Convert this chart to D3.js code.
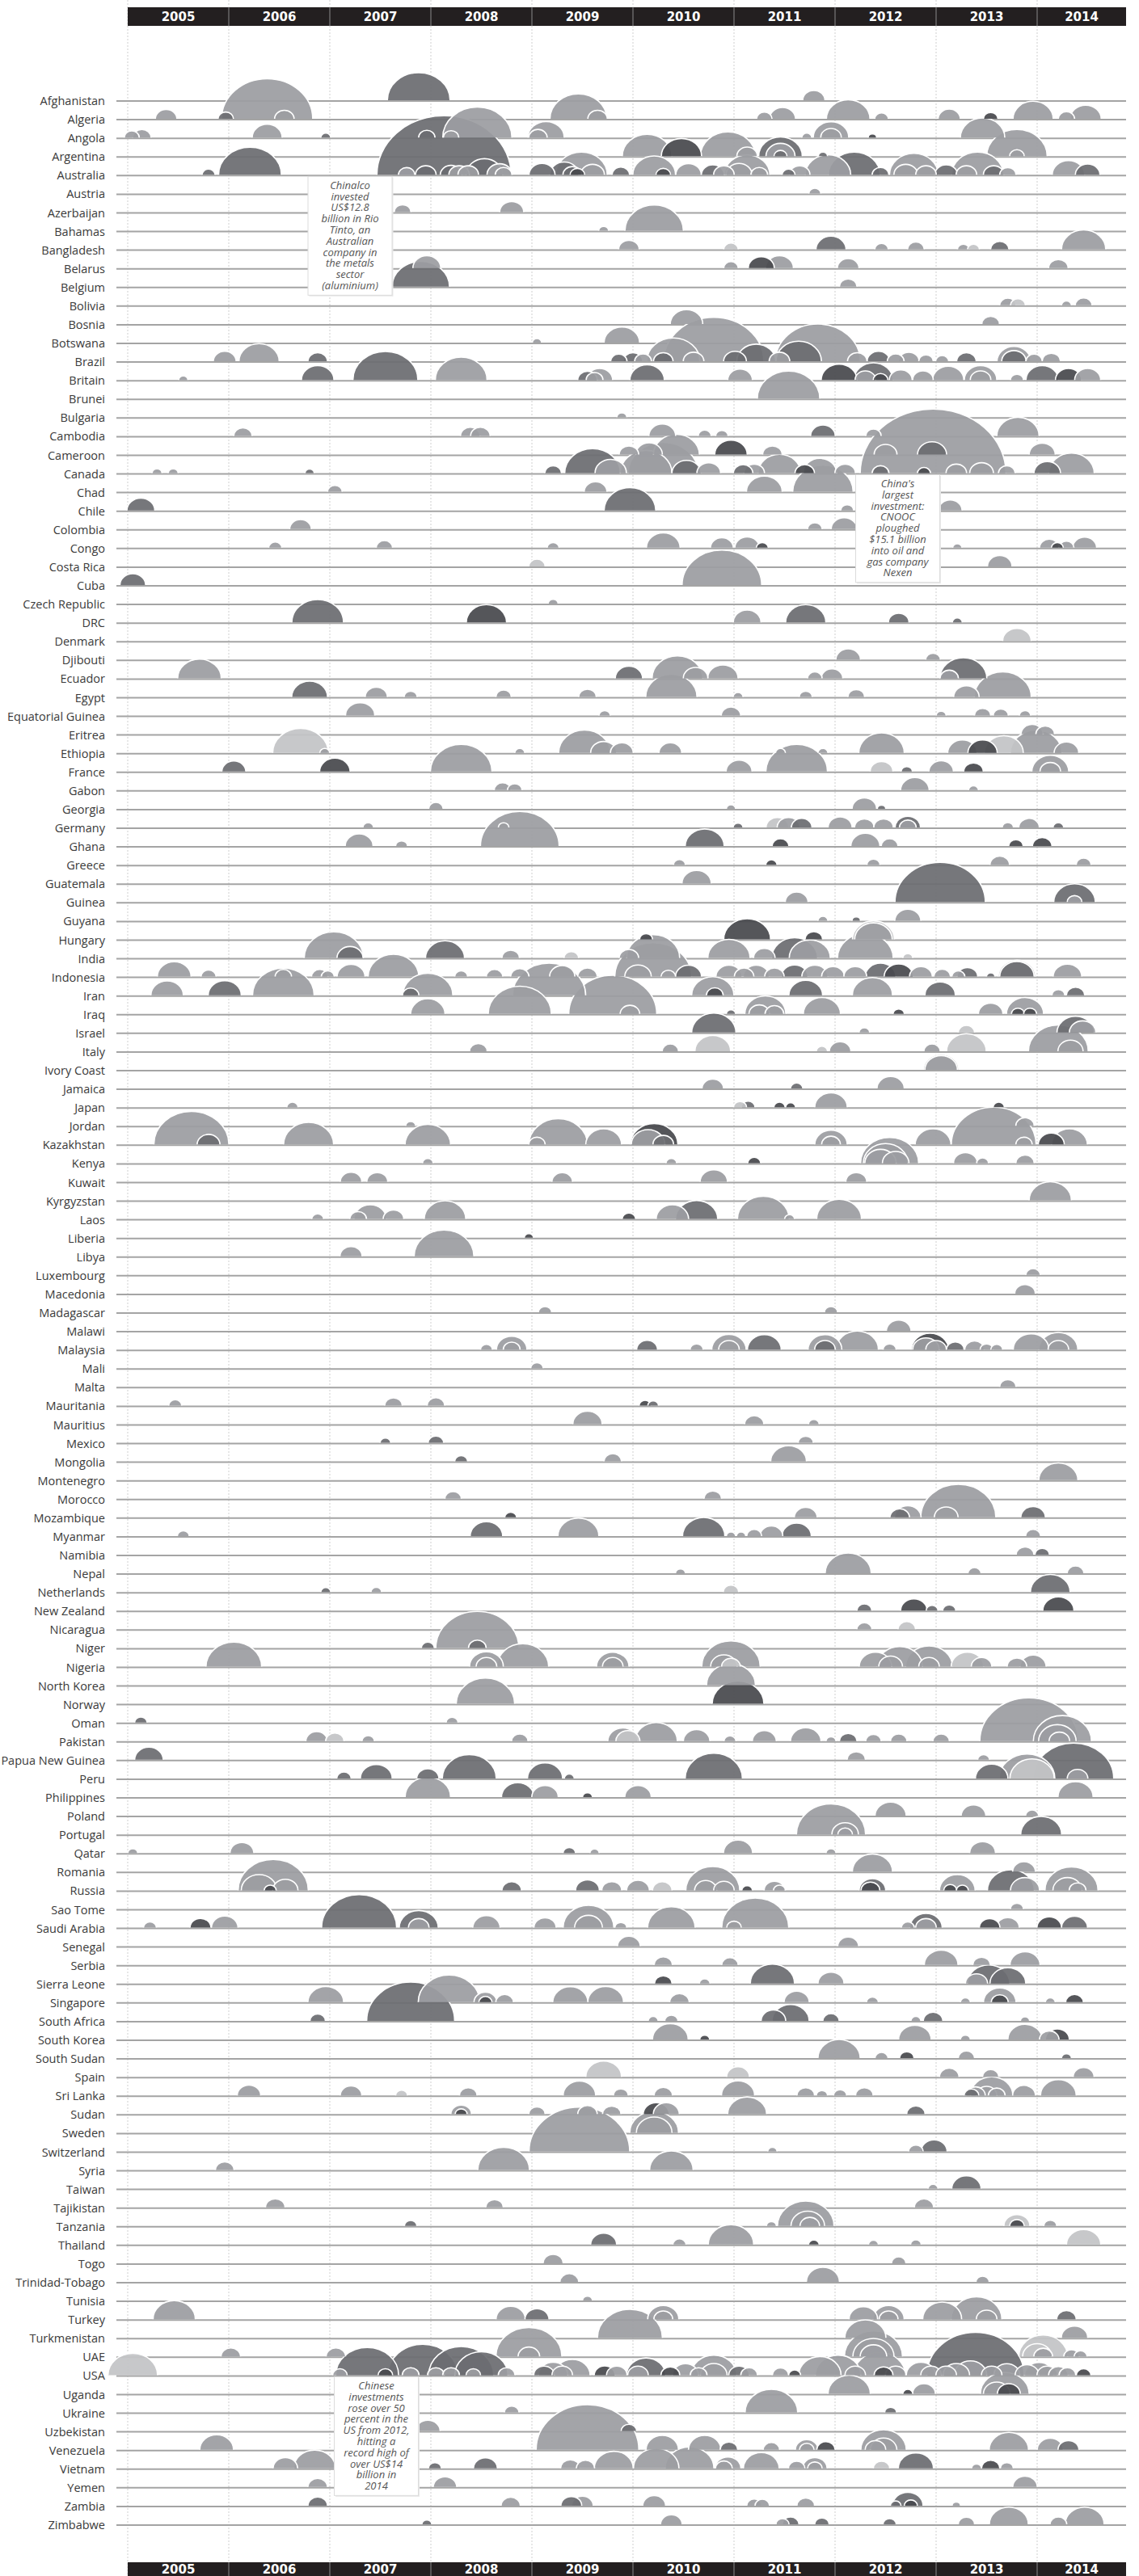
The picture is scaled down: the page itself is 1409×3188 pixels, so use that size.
<!DOCTYPE html>
<html lang="en">
<head>
<meta charset="utf-8">
<title>Chinese investment abroad, 2005-2014</title>
<script src="https://d3js.org/d3.v7.min.js"></script>
<style>
  body { margin: 0; background: #fff; }
  svg { display: block; }
  .country { font-family: "Open Sans", sans-serif; font-size: 14.5px; fill: #3a3a3a; }
  .year { font-family: "DejaVu Sans", sans-serif; font-weight: bold; font-size: 15px; fill: #fff; }
  .note { font-family: "Open Sans", sans-serif; font-style: italic; font-size: 13px; fill: #555; }
</style>
</head>
<body>
<script>
// tick labels
var years = [2005, 2006, 2007, 2008, 2009, 2010, 2011, 2012, 2013, 2014];
var endYear = 2014.88; // data stops before the end of 2014

// categories (one row each)
var countries = ["Afghanistan","Algeria","Angola","Argentina","Australia","Austria","Azerbaijan","Bahamas","Bangladesh","Belarus","Belgium","Bolivia","Bosnia","Botswana","Brazil","Britain","Brunei","Bulgaria","Cambodia","Cameroon","Canada","Chad","Chile","Colombia","Congo","Costa Rica","Cuba","Czech Republic","DRC","Denmark","Djibouti","Ecuador","Egypt","Equatorial Guinea","Eritrea","Ethiopia","France","Gabon","Georgia","Germany","Ghana","Greece","Guatemala","Guinea","Guyana","Hungary","India","Indonesia","Iran","Iraq","Israel","Italy","Ivory Coast","Jamaica","Japan","Jordan","Kazakhstan","Kenya","Kuwait","Kyrgyzstan","Laos","Liberia","Libya","Luxembourg","Macedonia","Madagascar","Malawi","Malaysia","Mali","Malta","Mauritania","Mauritius","Mexico","Mongolia","Montenegro","Morocco","Mozambique","Myanmar","Namibia","Nepal","Netherlands","New Zealand","Nicaragua","Niger","Nigeria","North Korea","Norway","Oman","Pakistan","Papua New Guinea","Peru","Philippines","Poland","Portugal","Qatar","Romania","Russia","Sao Tome","Saudi Arabia","Senegal","Serbia","Sierra Leone","Singapore","South Africa","South Korea","South Sudan","Spain","Sri Lanka","Sudan","Sweden","Switzerland","Syria","Taiwan","Tajikistan","Tanzania","Thailand","Togo","Trinidad-Tobago","Tunisia","Turkey","Turkmenistan","UAE","USA","Uganda","Ukraine","Uzbekistan","Venezuela","Vietnam","Yemen","Zambia","Zimbabwe"];

// sector shades: m = mid grey, d = dark, k = darkest, l = light
var shades = { m: "#9c9da1", d: "#6c6d71", k: "#48494d", l: "#c3c4c6" };

// deals: [date (decimal year), US$ billion, sector shade]
var deals = [
["Afghanistan",[2007.88,2.8,"d"],[2011.79,0.35,"m"]],
["Algeria",[2005.38,0.33,"m"],[2005.97,0.17,"d"],[2006.38,5.9,"m"],[2006.55,0.27,"m"],[2009.46,2.3,"m"],[2009.65,0.27,"m"],[2011.3,0.17,"m"],[2011.48,0.48,"m"],[2012.13,1.35,"m"],[2012.46,0.13,"m"],[2013.13,0.35,"m"],[2013.54,0.15,"k"],[2013.96,1.15,"m"],[2014.29,0.19,"m"],[2014.48,0.69,"m"]],
["Angola",[2005.04,0.16,"m"],[2005.14,0.24,"m"],[2006.38,0.64,"m"],[2006.96,0.07,"d"],[2007.96,0.19,"d"],[2008.2,0.17,"m"],[2008.46,3.4,"m"],[2009.14,0.94,"m"],[2009.06,0.24,"m"],[2011.72,0.07,"m"],[2011.96,0.9,"m"],[2011.96,0.3,"m"],[2012.37,0.05,"k"],[2013.46,1.4,"m"]],
["Argentina",[2010.14,1.75,"m"],[2010.48,1.15,"k"],[2010.94,2.15,"m"],[2011.13,0.3,"m"],[2011.46,1.35,"d"],[2011.46,0.6,"m"],[2011.46,0.12,"d"],[2011.88,0.06,"d"],[2013.8,2.6,"m"],[2013.8,0.15,"m"]],
["Australia",[2005.8,0.12,"d"],[2006.21,2.8,"d"],[2008.13,12.8,"d"],[2007.76,0.19,"m"],[2007.95,0.3,"d"],[2008.2,0.33,"d"],[2008.28,0.3,"m"],[2008.37,0.3,"m"],[2008.53,0.95,"d"],[2008.68,0.45,"m"],[2008.72,0.2,"m"],[2009.1,0.48,"d"],[2009.32,0.6,"d"],[2009.49,1.9,"m"],[2009.4,0.25,"d"],[2009.45,0.15,"k"],[2009.6,0.4,"m"],[2009.88,0.22,"d"],[2010.21,1.3,"m"],[2010.3,0.15,"k"],[2010.55,0.46,"m"],[2010.79,0.37,"d"],[2010.9,0.3,"m"],[2011.13,1.47,"m"],[2011.05,0.48,"m"],[2011.25,0.2,"m"],[2011.54,0.12,"d"],[2011.65,0.3,"m"],[2011.93,1.47,"m"],[2012.19,1.9,"d"],[2012.45,0.2,"d"],[2012.78,1.69,"m"],[2012.7,0.4,"m"],[2012.9,0.3,"m"],[2013.1,0.37,"d"],[2013.41,1.9,"m"],[2013.3,0.3,"m"],[2013.57,0.3,"d"],[2013.71,0.19,"m"],[2014.31,0.75,"m"],[2014.5,0.43,"d"]],
["Austria",[2011.8,0.1,"m"]],
["Azerbaijan",[2007.72,0.2,"m"],[2008.8,0.41,"m"]],
["Bahamas",[2009.71,0.07,"m"],[2010.21,2.43,"m"]],
["Bangladesh",[2009.96,0.3,"m"],[2010.97,0.15,"l"],[2011.96,0.64,"d"],[2012.46,0.13,"m"],[2012.8,0.2,"m"],[2013.27,0.1,"m"],[2013.37,0.1,"l"],[2013.63,0.24,"d"],[2014.46,1.39,"m"]],
["Belarus",[2007.96,0.55,"m"],[2010.97,0.15,"m"],[2011.27,0.48,"k"],[2011.45,0.55,"m"],[2012.13,0.33,"m"],[2014.21,0.27,"m"]],
["Belgium",[2007.9,2.34,"d"],[2012.13,0.22,"m"]],
["Bolivia",[2013.71,0.19,"m"],[2013.81,0.16,"l"],[2014.29,0.07,"m"],[2014.46,0.2,"m"]],
["Bosnia",[2010.53,0.75,"m"],[2013.54,0.22,"m"]],
["Botswana",[2009.05,0.06,"m"],[2009.89,0.9,"m"]],
["Brazil",[2005.96,0.37,"m"],[2006.3,1.15,"m"],[2006.88,0.27,"d"],[2009.86,0.19,"d"],[2010.0,0.27,"d"],[2010.1,0.2,"m"],[2010.4,2.0,"m"],[2010.3,0.27,"d"],[2010.8,7.1,"m"],[2010.6,0.3,"m"],[2011.01,0.37,"d"],[2011.22,1.08,"d"],[2011.64,1.47,"d"],[2011.83,5.1,"m"],[2011.45,0.3,"m"],[2012.22,0.27,"m"],[2012.43,0.37,"d"],[2012.6,0.2,"m"],[2012.73,0.3,"m"],[2012.9,0.15,"m"],[2013.06,0.12,"m"],[2013.3,0.27,"d"],[2013.77,0.81,"m"],[2013.77,0.42,"d"],[2013.97,0.19,"m"],[2014.14,0.24,"m"]],
["Britain",[2005.55,0.06,"m"],[2006.88,0.75,"d"],[2007.55,3.0,"d"],[2008.3,1.9,"m"],[2009.55,0.27,"d"],[2009.67,0.48,"m"],[2009.62,0.2,"m"],[2010.14,0.84,"d"],[2011.06,0.43,"m"],[2012.04,0.91,"k"],[2012.38,1.08,"d"],[2012.3,0.3,"m"],[2012.45,0.15,"k"],[2012.65,0.37,"m"],[2012.87,0.3,"m"],[2013.12,0.69,"m"],[2013.44,0.75,"m"],[2013.44,0.3,"m"],[2013.8,0.12,"m"],[2014.05,0.75,"d"],[2014.31,0.48,"k"],[2014.5,0.48,"m"]],
["Brunei",[2011.54,2.77,"m"]],
["Bulgaria",[2009.89,0.07,"m"]],
["Cambodia",[2006.14,0.24,"m"],[2008.39,0.27,"m"],[2008.49,0.27,"m"],[2010.29,0.51,"m"],[2010.71,0.12,"m"],[2010.88,0.11,"m"],[2011.88,0.43,"d"],[2012.38,0.17,"m"],[2013.81,1.27,"m"]],
["Cameroon",[2009.96,0.27,"m"],[2010.16,0.5,"m"],[2010.43,1.5,"m"],[2010.97,0.75,"k"],[2011.38,0.27,"m"],[2012.5,0.37,"m"],[2012.96,0.6,"d"],[2014.05,0.48,"m"]],
["Canada",[2005.29,0.07,"m"],[2005.45,0.07,"m"],[2006.8,0.06,"d"],[2009.21,0.2,"d"],[2009.6,2.2,"d"],[2009.78,0.7,"m"],[2010.13,1.9,"m"],[2010.3,3.5,"m"],[2010.53,0.6,"d"],[2010.75,0.4,"m"],[2011.09,0.27,"d"],[2011.2,0.3,"m"],[2011.45,1.3,"m"],[2011.7,0.27,"k"],[2011.85,0.8,"m"],[2012.1,0.3,"m"],[2012.45,0.2,"d"],[2012.97,15.1,"m"],[2012.88,0.12,"k"],[2013.2,0.3,"m"],[2013.45,0.4,"m"],[2013.7,0.2,"m"],[2014.1,0.5,"d"],[2014.34,1.47,"m"]],
["Chad",[2007.05,0.15,"m"],[2009.63,0.37,"m"],[2011.3,0.91,"m"],[2011.88,2.6,"m"]],
["Chile",[2005.13,0.55,"d"],[2009.97,1.9,"d"],[2012.12,0.12,"m"],[2013.14,0.4,"m"]],
["Colombia",[2006.71,0.33,"m"],[2011.8,0.15,"m"],[2012.09,0.48,"m"]],
["Congo",[2006.46,0.12,"m"],[2007.54,0.19,"m"],[2009.21,0.1,"m"],[2010.3,0.81,"m"],[2010.88,0.37,"m"],[2011.13,0.43,"m"],[2011.28,0.1,"k"],[2013.21,0.06,"m"],[2014.12,0.27,"m"],[2014.2,0.1,"k"],[2014.29,0.16,"m"],[2014.47,0.41,"m"]],
["Costa Rica",[2009.05,0.19,"l"],[2013.63,0.43,"m"]],
["Cuba",[2005.05,0.47,"d"],[2010.88,4.5,"m"]],
["Czech Republic",[2009.21,0.07,"m"]],
["DRC",[2006.88,1.9,"d"],[2008.55,1.15,"k"],[2011.13,0.55,"m"],[2011.71,1.15,"d"],[2012.63,0.3,"d"],[2013.21,0.07,"d"]],
["Denmark",[2013.8,0.58,"l"]],
["Djibouti",[2012.13,0.43,"m"],[2012.97,0.15,"m"]],
["Ecuador",[2005.71,1.35,"m"],[2009.96,0.53,"d"],[2010.44,1.83,"m"],[2010.62,0.43,"m"],[2010.89,0.66,"m"],[2011.8,0.15,"m"],[2011.97,0.33,"m"],[2013.27,1.56,"d"],[2013.13,0.24,"m"]],
["Egypt",[2006.8,0.91,"d"],[2007.46,0.35,"m"],[2007.8,0.12,"m"],[2008.72,0.17,"m"],[2009.55,0.22,"m"],[2010.38,1.87,"m"],[2011.04,0.07,"m"],[2011.71,0.12,"m"],[2012.21,0.2,"m"],[2013.3,0.46,"m"],[2013.66,2.3,"m"]],
["Equatorial Guinea",[2007.3,0.61,"m"],[2009.72,0.09,"m"],[2010.97,0.27,"m"],[2013.05,0.07,"m"],[2013.46,0.19,"m"],[2013.64,0.16,"m"],[2013.88,0.09,"m"]],
["Eritrea",[2013.95,0.35,"m"],[2014.08,0.25,"m"]],
["Ethiopia",[2006.71,2.2,"l"],[2006.95,0.07,"m"],[2008.88,0.07,"m"],[2009.52,1.9,"m"],[2009.71,0.48,"m"],[2009.89,0.37,"m"],[2010.37,0.37,"m"],[2011.46,0.07,"m"],[2011.88,0.07,"m"],[2012.46,1.47,"m"],[2013.26,0.61,"m"],[2013.46,0.61,"k"],[2013.67,1.08,"l"],[2013.99,1.9,"m"],[2014.29,0.43,"m"]],
["France",[2006.05,0.41,"d"],[2007.05,0.66,"k"],[2008.3,2.7,"m"],[2011.05,0.48,"m"],[2011.62,2.7,"m"],[2012.46,0.37,"l"],[2012.71,0.09,"d"],[2013.05,0.43,"m"],[2013.37,0.27,"k"],[2014.13,0.97,"m"],[2014.13,0.3,"m"]],
["Gabon",[2008.71,0.2,"m"],[2008.83,0.15,"m"],[2012.79,0.58,"m"],[2013.37,0.07,"m"]],
["Georgia",[2008.05,0.15,"m"],[2010.97,0.06,"m"],[2012.29,0.43,"m"],[2012.46,0.05,"d"]],
["Germany",[2007.38,0.08,"m"],[2008.72,0.08,"m"],[2011.04,0.07,"d"],[2011.43,0.37,"l"],[2011.54,0.37,"m"],[2011.67,0.3,"d"],[2012.05,0.41,"m"],[2012.29,0.27,"m"],[2012.48,0.27,"m"],[2012.72,0.46,"d"],[2012.72,0.2,"m"],[2013.71,0.09,"m"],[2013.92,0.3,"m"],[2014.21,0.08,"d"]],
["Ghana",[2007.29,0.55,"m"],[2007.71,0.1,"m"],[2008.88,4.4,"m"],[2010.71,1.08,"d"],[2011.46,0.2,"k"],[2012.3,0.6,"m"],[2012.54,0.2,"m"],[2013.79,0.15,"k"],[2014.05,0.27,"k"]],
["Greece",[2010.46,0.1,"m"],[2011.37,0.09,"k"],[2012.38,0.12,"m"],[2013.63,0.27,"m"],[2014.46,0.16,"m"]],
["Guatemala",[2010.63,0.61,"m"]],
["Guinea",[2011.62,0.37,"m"],[2013.04,5.8,"d"],[2014.37,1.23,"d"],[2014.37,0.15,"m"]],
["Guyana",[2011.88,0.07,"m"],[2012.21,0.05,"d"],[2012.72,0.48,"m"]],
["Hungary",[2010.13,0.12,"k"],[2011.13,1.56,"k"],[2011.79,0.22,"k"],[2012.38,1.25,"l"],[2012.38,1.0,"m"]],
["India",[2007.04,2.5,"m"],[2007.2,0.48,"d"],[2008.14,1.08,"d"],[2008.79,0.22,"m"],[2009.39,0.15,"l"],[2009.96,0.27,"m"],[2010.2,2.0,"m"],[2010.95,1.27,"m"],[2011.3,0.33,"m"],[2011.6,1.5,"d"],[2011.75,1.2,"m"],[2012.3,2.2,"m"],[2012.72,0.07,"l"]],
["Indonesia",[2005.46,0.81,"m"],[2005.8,0.16,"m"],[2006.54,0.19,"m"],[2006.9,0.19,"m"],[2006.98,0.12,"m"],[2007.21,0.55,"m"],[2007.63,1.83,"m"],[2008.3,0.12,"m"],[2008.63,0.19,"m"],[2008.88,0.24,"m"],[2009.3,0.45,"m"],[2009.55,0.27,"m"],[2010.2,4.2,"m"],[2010.05,0.5,"m"],[2010.35,0.15,"m"],[2010.55,0.48,"d"],[2010.95,0.48,"m"],[2011.1,0.27,"m"],[2011.22,0.48,"m"],[2011.4,0.27,"m"],[2011.6,0.5,"d"],[2011.8,0.48,"m"],[2011.98,0.37,"m"],[2012.2,0.37,"m"],[2012.45,0.66,"d"],[2012.63,0.6,"k"],[2012.85,0.37,"m"],[2013.06,0.2,"m"],[2013.22,0.12,"m"],[2013.31,0.3,"d"],[2013.54,0.05,"d"],[2013.8,1.0,"l"],[2013.8,0.84,"d"],[2014.3,0.58,"m"]],
["Iran",[2005.39,0.75,"m"],[2005.96,0.78,"d"],[2006.54,2.7,"m"],[2007.8,0.19,"d"],[2007.97,1.78,"m"],[2009.17,3.8,"m"],[2010.79,1.27,"m"],[2010.81,0.2,"k"],[2011.71,0.81,"d"],[2012.37,1.15,"m"],[2013.04,0.66,"d"],[2014.21,0.12,"m"],[2014.38,0.24,"d"]],
["Iraq",[2007.97,0.84,"m"],[2008.88,2.83,"m"],[2009.8,5.5,"m"],[2009.97,0.27,"m"],[2010.97,0.06,"d"],[2011.31,1.2,"m"],[2011.25,0.3,"m"],[2011.4,0.25,"m"],[2011.87,0.98,"m"],[2012.63,0.09,"k"],[2013.54,0.43,"m"],[2013.88,0.98,"m"],[2013.81,0.12,"k"],[2013.93,0.12,"k"]],
["Israel",[2010.8,1.39,"d"],[2012.29,0.08,"m"],[2013.3,0.19,"l"],[2014.45,0.5,"m"],[2014.38,0.98,"d"]],
["Italy",[2008.47,0.22,"m"],[2010.37,0.19,"m"],[2010.79,0.91,"l"],[2011.87,0.09,"l"],[2012.05,0.33,"m"],[2012.96,0.19,"m"],[2013.3,1.12,"l"],[2014.21,2.54,"m"],[2014.33,0.45,"m"]],
["Ivory Coast",[2013.05,0.9,"l"],[2013.05,0.75,"m"]],
["Jamaica",[2010.79,0.33,"m"],[2011.62,0.11,"d"],[2012.55,0.53,"m"]],
["Japan",[2006.63,0.09,"m"],[2011.06,0.12,"l"],[2011.14,0.13,"d"],[2011.45,0.09,"k"],[2011.56,0.07,"k"],[2011.96,0.75,"m"],[2013.62,0.09,"k"]],
["Jordan",[2007.8,0.07,"m"],[2013.88,0.24,"m"]],
["Kazakhstan",[2005.63,4.0,"m"],[2005.8,0.37,"d"],[2006.79,1.78,"m"],[2007.97,1.47,"m"],[2009.26,2.43,"m"],[2009.05,0.19,"m"],[2009.71,0.91,"m"],[2010.21,1.6,"k"],[2010.15,0.8,"m"],[2010.3,0.3,"d"],[2011.96,0.75,"m"],[2011.96,0.25,"m"],[2012.97,0.91,"m"],[2013.57,5.1,"m"],[2013.87,0.19,"m"],[2014.14,0.48,"k"],[2014.32,0.91,"m"]],
["Kenya",[2007.97,0.08,"m"],[2010.38,0.08,"m"],[2011.2,0.12,"k"],[2012.54,2.4,"m"],[2012.5,1.4,"m"],[2012.45,0.7,"m"],[2012.6,0.5,"m"],[2013.29,0.4,"m"],[2013.46,0.1,"m"],[2013.88,0.24,"m"]],
["Kuwait",[2007.21,0.33,"m"],[2007.47,0.31,"m"],[2009.3,0.3,"m"],[2010.8,0.53,"m"],[2012.21,0.31,"m"]],
["Kyrgyzstan",[2014.13,1.27,"m"]],
["Laos",[2006.88,0.1,"m"],[2007.4,0.75,"m"],[2007.28,0.2,"m"],[2007.63,0.3,"m"],[2008.14,1.23,"m"],[2009.96,0.13,"k"],[2010.39,0.75,"m"],[2010.63,1.27,"d"],[2011.29,1.9,"m"],[2011.55,0.07,"m"],[2012.04,1.43,"m"]],
["Liberia",[2008.97,0.06,"k"]],
["Libya",[2007.21,0.35,"m"],[2008.13,2.54,"m"]],
["Luxembourg",[2013.96,0.15,"m"]],
["Macedonia",[2013.88,0.3,"m"]],
["Madagascar",[2009.13,0.12,"m"],[2011.96,0.12,"m"]],
["Malawi",[2012.63,0.43,"m"]],
["Malaysia",[2008.55,0.1,"m"],[2008.8,0.66,"m"],[2008.8,0.2,"m"],[2010.14,0.31,"d"],[2010.63,0.12,"m"],[2010.95,0.84,"m"],[2010.95,0.3,"m"],[2011.3,0.81,"d"],[2011.9,0.81,"m"],[2011.9,0.3,"d"],[2012.22,1.27,"m"],[2012.54,0.12,"m"],[2012.94,0.98,"k"],[2012.9,0.5,"m"],[2013.0,0.3,"m"],[2013.19,0.22,"d"],[2013.38,0.27,"m"],[2013.5,0.12,"m"],[2013.6,0.1,"m"],[2013.94,0.91,"m"],[2014.21,1.08,"m"],[2014.21,0.3,"m"]],
["Mali",[2009.05,0.11,"m"]],
["Malta",[2013.71,0.19,"m"]],
["Mauritania",[2005.47,0.12,"m"],[2007.63,0.22,"m"],[2008.05,0.22,"m"],[2010.12,0.1,"k"],[2010.2,0.08,"d"]],
["Mauritius",[2009.55,0.61,"m"],[2011.2,0.26,"m"],[2011.79,0.08,"m"]],
["Mexico",[2007.55,0.08,"d"],[2008.05,0.17,"d"],[2011.71,0.16,"m"]],
["Mongolia",[2008.3,0.12,"d"],[2009.8,0.22,"m"],[2011.54,0.91,"m"]],
["Montenegro",[2014.21,1.08,"m"]],
["Morocco",[2008.22,0.19,"m"],[2010.79,0.22,"m"]],
["Mozambique",[2008.79,0.1,"k"],[2011.71,0.37,"m"],[2012.64,0.27,"d"],[2012.72,0.5,"m"],[2013.22,4.0,"m"],[2013.1,0.4,"m"],[2013.96,0.43,"d"]],
["Myanmar",[2005.55,0.1,"m"],[2008.55,0.75,"d"],[2009.46,1.19,"m"],[2010.7,1.27,"d"],[2010.97,0.06,"m"],[2011.07,0.06,"m"],[2011.2,0.16,"m"],[2011.37,0.37,"m"],[2011.62,0.61,"d"],[2013.96,0.16,"m"]],
["Namibia",[2013.88,0.22,"m"],[2014.05,0.15,"d"]],
["Nepal",[2010.47,0.07,"m"],[2012.13,1.51,"m"],[2013.38,0.12,"m"],[2014.38,0.2,"m"]],
["Netherlands",[2006.96,0.07,"d"],[2007.46,0.08,"m"],[2010.97,0.17,"l"],[2014.13,1.12,"d"]],
["New Zealand",[2012.29,0.16,"d"],[2012.78,0.5,"k"],[2012.96,0.1,"d"],[2013.13,0.12,"d"],[2014.21,0.69,"k"]],
["Nicaragua",[2012.29,0.16,"m"],[2012.71,0.22,"l"]],
["Niger",[2007.97,0.12,"d"],[2008.46,4.9,"m"],[2008.46,0.22,"d"]],
["Nigeria",[2006.05,2.2,"m"],[2008.55,0.81,"m"],[2008.55,0.3,"m"],[2008.91,1.9,"m"],[2009.8,0.75,"m"],[2009.8,0.3,"m"],[2010.97,2.43,"m"],[2010.9,0.5,"m"],[2010.97,0.25,"l"],[2012.4,0.75,"m"],[2012.64,1.47,"m"],[2012.55,0.4,"m"],[2012.93,1.56,"m"],[2012.93,0.3,"m"],[2013.31,0.75,"l"],[2013.45,0.3,"m"],[2013.8,0.27,"m"],[2013.96,0.48,"m"]],
["North Korea",[2010.97,1.7,"m"]],
["Norway",[2008.54,2.43,"m"],[2011.04,1.9,"k"]],
["Oman",[2005.13,0.11,"d"],[2008.21,0.1,"m"]],
["Pakistan",[2006.87,0.33,"m"],[2007.05,0.24,"l"],[2007.38,0.11,"m"],[2008.88,0.19,"m"],[2009.9,0.64,"m"],[2009.95,0.41,"l"],[2010.23,1.27,"m"],[2010.63,0.5,"m"],[2010.96,0.1,"m"],[2011.3,0.41,"m"],[2011.71,0.66,"m"],[2011.96,0.07,"m"],[2012.13,0.22,"d"],[2012.38,0.17,"m"],[2012.63,0.19,"m"],[2013.05,0.19,"m"],[2013.92,6.9,"m"],[2014.25,2.4,"m"],[2014.2,1.0,"m"],[2014.22,0.3,"m"]],
["Papua New Guinea",[2005.21,0.58,"d"],[2012.21,0.24,"m"],[2013.47,0.1,"m"]],
["Peru",[2007.14,0.15,"d"],[2007.46,0.72,"d"],[2007.97,0.35,"d"],[2008.38,2.07,"d"],[2009.13,0.88,"d"],[2009.37,0.07,"d"],[2010.8,2.33,"d"],[2013.55,0.75,"d"],[2013.9,2.2,"m"],[2013.95,1.4,"l"],[2014.36,4.6,"d"],[2014.4,0.3,"m"]],
["Philippines",[2007.97,1.47,"m"],[2008.86,0.75,"d"],[2009.13,0.5,"m"],[2009.55,0.07,"k"],[2010.05,0.5,"m"],[2014.38,0.88,"m"]],
["Poland",[2012.55,0.69,"m"],[2013.37,0.43,"m"],[2013.95,0.12,"m"]],
["Portugal",[2011.96,3.4,"m"],[2012.1,0.5,"m"],[2012.1,0.15,"m"],[2014.04,1.19,"d"]],
["Qatar",[2005.05,0.07,"m"],[2006.13,0.41,"m"],[2009.37,0.11,"d"],[2009.62,0.06,"m"],[2011.04,0.61,"m"],[2011.96,0.07,"m"],[2013.46,0.48,"m"]],
["Romania",[2012.37,1.15,"m"],[2013.87,0.37,"m"]],
["Russia",[2006.44,3.5,"m"],[2006.3,0.9,"m"],[2006.56,0.45,"m"],[2006.41,0.1,"k"],[2008.8,0.27,"d"],[2009.55,0.4,"d"],[2009.79,0.28,"m"],[2010.05,0.37,"m"],[2010.29,0.27,"l"],[2010.79,2.07,"m"],[2010.72,0.35,"m"],[2010.9,0.3,"m"],[2011.13,0.08,"k"],[2011.4,0.3,"m"],[2011.45,0.1,"m"],[2012.37,0.5,"d"],[2012.35,0.25,"k"],[2013.21,0.9,"m"],[2013.14,0.12,"k"],[2013.26,0.1,"k"],[2013.74,1.56,"d"],[2013.88,0.6,"m"],[2014.34,2.0,"m"],[2014.3,0.6,"m"],[2014.4,0.2,"m"]],
["Sao Tome",[2013.8,0.12,"m"]],
["Saudi Arabia",[2005.22,0.12,"m"],[2005.72,0.31,"k"],[2005.96,0.5,"m"],[2007.29,4.0,"d"],[2007.88,1.08,"d"],[2007.88,0.3,"m"],[2008.55,0.53,"m"],[2009.13,0.35,"m"],[2009.56,1.83,"m"],[2009.56,0.55,"m"],[2009.88,0.1,"m"],[2010.38,1.6,"m"],[2011.21,3.2,"m"],[2011.0,0.15,"m"],[2012.72,0.12,"m"],[2012.9,0.75,"d"],[2012.9,0.3,"m"],[2013.53,0.3,"k"],[2013.71,0.37,"m"],[2014.12,0.43,"k"],[2014.37,0.48,"d"]],
["Senegal",[2009.96,0.37,"m"],[2012.13,0.31,"m"]],
["Serbia",[2010.3,0.24,"m"],[2010.96,0.19,"m"],[2013.05,0.81,"m"],[2013.45,0.22,"m"],[2013.88,0.64,"m"]],
["Sierra Leone",[2010.3,0.22,"k"],[2010.71,0.08,"m"],[2011.38,1.39,"d"],[2011.96,0.48,"m"],[2013.52,1.27,"d"],[2013.4,0.35,"m"],[2013.71,0.91,"d"]],
["Singapore",[2006.96,0.91,"m"],[2008.18,2.7,"m"],[2008.54,0.37,"m"],[2008.54,0.12,"k"],[2008.73,0.22,"m"],[2009.38,0.88,"m"],[2009.73,0.91,"m"],[2010.46,0.27,"m"],[2011.62,0.45,"m"],[2012.37,0.1,"m"],[2013.29,0.07,"m"],[2013.63,0.75,"m"],[2013.63,0.2,"k"],[2014.13,0.07,"m"],[2014.37,0.22,"k"]],
["South Africa",[2006.88,0.17,"d"],[2007.8,5.5,"d"],[2010.2,0.07,"m"],[2010.38,0.12,"m"],[2011.39,0.43,"d"],[2011.56,0.98,"d"],[2011.96,0.19,"d"],[2012.8,0.07,"m"],[2012.97,0.27,"d"],[2013.88,0.06,"m"]],
["South Korea",[2010.37,0.91,"m"],[2010.71,0.07,"k"],[2012.79,0.75,"m"],[2013.29,0.07,"m"],[2013.88,0.84,"m"],[2014.12,0.27,"m"],[2014.2,0.41,"k"]],
["South Sudan",[2012.04,1.27,"m"],[2012.46,0.12,"m"],[2012.71,0.15,"k"],[2013.3,0.19,"m"],[2014.29,0.07,"d"]],
["Spain",[2009.71,0.91,"l"],[2011.04,0.37,"l"],[2013.13,0.27,"m"],[2013.54,0.19,"m"],[2014.46,0.31,"m"]],
["Sri Lanka",[2006.2,0.39,"m"],[2007.21,0.33,"m"],[2007.71,0.1,"l"],[2008.37,0.22,"m"],[2009.47,0.75,"m"],[2009.88,0.16,"m"],[2010.3,0.24,"m"],[2011.04,0.78,"m"],[2011.71,0.22,"m"],[2011.87,0.09,"m"],[2012.05,0.12,"m"],[2012.29,0.22,"m"],[2013.39,0.27,"m"],[2013.35,0.15,"d"],[2013.55,1.27,"m"],[2013.5,0.3,"m"],[2013.6,0.2,"m"],[2013.87,0.37,"m"],[2014.21,0.91,"m"]],
["Sudan",[2008.3,0.3,"m"],[2008.3,0.1,"k"],[2009.05,0.19,"m"],[2009.55,0.27,"m"],[2009.79,0.24,"m"],[2010.23,0.48,"k"],[2010.33,0.48,"m"],[2011.13,1.08,"m"],[2012.8,0.24,"d"]],
["Sweden",[2010.21,1.69,"m"],[2010.21,0.9,"m"]],
["Switzerland",[2009.47,7.2,"m"],[2011.38,0.06,"m"],[2012.8,0.15,"m"],[2012.98,0.48,"d"]],
["Syria",[2005.96,0.25,"m"],[2008.72,1.9,"m"],[2010.38,1.35,"m"]],
["Taiwan",[2012.97,0.07,"m"],[2013.3,0.61,"d"]],
["Tajikistan",[2006.46,0.27,"m"],[2008.63,0.22,"m"],[2012.88,0.26,"m"]],
["Tanzania",[2007.8,0.11,"d"],[2011.37,0.07,"m"],[2011.71,2.27,"m"],[2011.73,0.8,"m"],[2011.75,0.27,"m"],[2013.8,0.48,"l"],[2013.8,0.15,"k"],[2014.13,0.12,"m"]],
["Thailand",[2009.71,0.48,"d"],[2010.46,0.12,"m"],[2010.97,1.47,"m"],[2011.79,0.08,"k"],[2012.38,0.07,"m"],[2012.8,0.08,"m"],[2014.46,0.84,"l"]],
["Togo",[2009.21,0.29,"m"],[2012.63,0.15,"m"]],
["Trinidad-Tobago",[2009.37,0.25,"m"],[2011.88,0.78,"m"],[2013.46,0.12,"m"]],
["Tunisia",[2009.55,0.07,"m"]],
["Turkey",[2005.46,1.27,"m"],[2008.79,0.61,"m"],[2009.05,0.41,"d"],[2010.3,0.69,"m"],[2010.3,0.25,"m"],[2012.28,0.58,"m"],[2012.53,0.69,"m"],[2012.53,0.25,"m"],[2013.06,1.08,"m"],[2013.4,1.83,"m"],[2013.5,0.3,"m"],[2014.29,0.27,"d"]],
["Turkmenistan",[2009.97,3.0,"m"],[2012.3,1.2,"m"],[2014.37,0.5,"m"]],
["UAE",[2006.02,0.27,"m"],[2007.06,0.27,"m"],[2008.97,3.1,"m"],[2008.97,0.33,"m"],[2012.38,2.4,"m"],[2012.38,1.2,"m"],[2012.38,0.5,"m"],[2014.06,1.69,"l"],[2014.0,0.6,"l"],[2014.06,0.25,"m"],[2014.34,0.17,"m"],[2014.43,0.12,"m"]],
["USA",[2005.05,1.75,"l"],[2007.1,0.15,"m"],[2007.37,2.8,"d"],[2007.55,0.15,"k"],[2007.92,3.5,"d"],[2007.8,0.2,"m"],[2008.05,0.2,"m"],[2008.3,3.0,"d"],[2008.5,2.0,"d"],[2008.2,0.2,"m"],[2008.42,0.15,"m"],[2008.75,0.2,"m"],[2009.21,0.61,"m"],[2009.12,0.3,"d"],[2009.3,0.3,"m"],[2009.4,0.9,"m"],[2009.72,0.31,"k"],[2009.84,0.3,"m"],[2010.13,1.08,"d"],[2010.05,0.3,"m"],[2010.37,0.25,"k"],[2010.52,0.48,"m"],[2010.8,1.47,"m"],[2010.8,0.5,"m"],[2010.65,0.2,"m"],[2011.05,0.3,"d"],[2011.15,0.2,"m"],[2011.46,0.19,"m"],[2011.6,0.1,"k"],[2011.85,1.27,"m"],[2012.03,1.47,"m"],[2012.44,1.9,"m"],[2012.2,0.3,"m"],[2012.48,0.25,"k"],[2012.6,0.3,"m"],[2012.85,0.61,"m"],[2012.95,0.3,"m"],[2013.39,6.7,"d"],[2013.1,0.3,"m"],[2013.2,0.5,"m"],[2013.34,0.75,"m"],[2013.55,0.3,"m"],[2013.7,0.48,"m"],[2013.9,0.4,"m"],[2014.02,0.6,"m"],[2014.1,0.3,"m"],[2014.21,0.27,"m"],[2014.3,0.2,"m"],[2014.46,0.15,"k"]],
["Uganda",[2012.14,1.27,"m"],[2012.72,0.07,"k"],[2012.88,0.37,"m"],[2013.68,1.69,"m"],[2013.6,0.5,"m"],[2013.72,0.37,"k"]],
["Ukraine",[2008.8,0.15,"m"],[2011.37,1.97,"m"],[2012.55,0.1,"d"]],
["Uzbekistan",[2007.97,0.43,"m"],[2009.96,0.17,"d"]],
["Venezuela",[2005.88,0.81,"m"],[2009.55,7.5,"m"],[2010.29,0.75,"m"],[2010.71,0.75,"m"],[2010.95,0.22,"d"],[2011.37,0.19,"m"],[2011.72,0.37,"m"],[2011.72,0.15,"m"],[2011.91,0.24,"k"],[2012.48,1.47,"m"],[2012.48,0.5,"m"],[2012.4,0.3,"m"],[2013.72,1.1,"m"],[2014.13,0.48,"m"],[2014.31,0.31,"d"]],
["Vietnam",[2006.56,0.43,"m"],[2006.85,1.23,"m"],[2008.04,0.12,"d"],[2008.54,0.41,"d"],[2009.38,0.27,"m"],[2009.53,0.24,"m"],[2009.81,1.08,"m"],[2010.23,1.47,"m"],[2010.56,1.69,"m"],[2010.94,0.48,"m"],[2010.9,0.2,"m"],[2011.27,0.91,"m"],[2011.62,0.19,"m"],[2011.8,0.43,"m"],[2011.8,0.15,"m"],[2012.46,0.19,"l"],[2012.8,0.88,"d"],[2013.4,0.07,"m"],[2013.54,0.24,"k"],[2013.7,0.12,"m"]],
["Yemen",[2006.88,0.27,"m"],[2008.14,0.39,"m"],[2013.88,0.43,"m"]],
["Zambia",[2006.88,0.27,"d"],[2008.79,0.26,"m"],[2009.39,0.31,"d"],[2009.5,0.33,"m"],[2010.21,0.37,"m"],[2011.2,0.16,"m"],[2011.28,0.15,"m"],[2011.71,0.22,"m"],[2012.72,0.66,"d"],[2012.75,0.12,"k"],[2012.6,0.08,"d"],[2013.2,0.05,"m"]],
["Zimbabwe",[2007.96,0.07,"d"],[2010.38,0.33,"m"],[2011.48,0.12,"m"],[2011.56,0.2,"d"],[2011.87,0.15,"d"],[2012.54,0.12,"d"],[2013.3,0.19,"m"],[2013.72,1.08,"m"],[2014.21,0.2,"m"],[2014.47,1.08,"m"]]
];

// annotations: country row the box hangs under, centre date, lines of text
var notes = [
  { country: "Australia", date: 2007.2, lines: ["Chinalco", "invested", "US$12.8", "billion in Rio", "Tinto, an", "Australian", "company in", "the metals", "sector", "(aluminium)"] },
  { country: "Canada", date: 2012.62, lines: ["China's", "largest", "investment:", "CNOOC", "ploughed", "$15.1 billion", "into oil and", "gas company", "Nexen"] },
  { country: "USA", date: 2007.46, lines: ["Chinese", "investments", "rose over 50", "percent in the", "US from 2012,", "hitting a", "record high of", "over US$14", "billion in", "2014"] }
];

var w = 1409, h = 3188;

var x = d3.scaleLinear().domain([2005, 2015]).range([158, 1408]);
var y = d3.scalePoint().domain(countries).range([125, 3125]);
var r = d3.scaleSqrt().domain([0, 12.8]).range([0, 83]);

var svg = d3.select("body").append("svg")
  .attr("width", w)
  .attr("height", h);

// year grid (dotted)
svg.append("g").selectAll("line")
  .data(years)
  .enter().append("line")
  .attr("x1", function(d) { return x(d); })
  .attr("x2", function(d) { return x(d); })
  .attr("y1", 0)
  .attr("y2", h)
  .attr("stroke", "#cfcfcf")
  .attr("stroke-width", 1)
  .attr("stroke-dasharray", "2,2");

// country baselines
svg.append("g").selectAll("line")
  .data(countries)
  .enter().append("line")
  .attr("x1", 144)
  .attr("x2", x(endYear))
  .attr("y1", function(d) { return y(d); })
  .attr("y2", function(d) { return y(d); })
  .attr("stroke", "#a4a4a4")
  .attr("stroke-width", 2);

// country labels
svg.append("g").selectAll("text")
  .data(countries)
  .enter().append("text")
  .attr("class", "country")
  .attr("x", 130)
  .attr("y", function(d) { return y(d); })
  .attr("dy", "0.35em")
  .attr("text-anchor", "end")
  .text(function(d) { return d; });

// flatten the deals, biggest drawn first so small ones stay visible
var flat = [];
deals.forEach(function(row) {
  row.slice(1).forEach(function(d) {
    flat.push({ country: row[0], date: d[0], value: d[1], shade: d[2] });
  });
});
flat.sort(function(a, b) { return b.value - a.value; });

function dome(d) {
  var cx = x(d.date), cy = y(d.country) - 1, rx = r(d.value), ry = rx * 0.88;
  return "M" + (cx - rx) + "," + cy + "A" + rx + "," + ry + " 0 0 1 " + (cx + rx) + "," + cy;
}

svg.append("g").selectAll("path")
  .data(flat)
  .enter().append("path")
  .attr("d", dome)
  .attr("fill", function(d) { return shades[d.shade]; })
  .attr("fill-opacity", 0.93)
  .attr("stroke", "#fff")
  .attr("stroke-width", 1.6);

// annotation boxes
var lineH = 13.8;
notes.forEach(function(n) {
  var top = y(n.country) + 1;
  var bw = 104, bh = n.lines.length * lineH + 9;
  var cx = x(n.date);
  var g = svg.append("g");
  g.append("rect")
    .attr("x", cx - bw / 2 + 1.5)
    .attr("y", top + 1.5)
    .attr("width", bw)
    .attr("height", bh)
    .attr("fill", "#e9e9e9");
  g.append("rect")
    .attr("x", cx - bw / 2)
    .attr("y", top)
    .attr("width", bw)
    .attr("height", bh)
    .attr("fill", "#fff")
    .attr("stroke", "#dcdcdc");
  g.selectAll("text")
    .data(n.lines)
    .enter().append("text")
    .attr("class", "note")
    .attr("x", cx)
    .attr("y", function(d, i) { return top + 11 + i * lineH; })
    .attr("dy", "0.35em")
    .attr("text-anchor", "middle")
    .text(function(d) { return d; });
});

// year bars, top and bottom (the bottom one runs off the page, so its labels sit a bit higher)
function yearBar(top, labelY) {
  var g = svg.append("g");
  g.append("rect")
    .attr("x", x(2005))
    .attr("y", top)
    .attr("width", x(endYear) - x(2005))
    .attr("height", 23)
    .attr("fill", "#231f20");
  g.selectAll("line")
    .data(years.slice(1))
    .enter().append("line")
    .attr("x1", function(d) { return x(d); })
    .attr("x2", function(d) { return x(d); })
    .attr("y1", top)
    .attr("y2", top + 23)
    .attr("stroke", "#8a8a8a")
    .attr("stroke-width", 1);
  g.selectAll("text")
    .data(years)
    .enter().append("text")
    .attr("class", "year")
    .attr("x", function(d) { return (x(d) + Math.min(x(d + 1), x(endYear))) / 2; })
    .attr("y", labelY)
    .attr("dy", "0.36em")
    .attr("text-anchor", "middle")
    .text(function(d) { return d; });
}
yearBar(9, 20.5);
yearBar(3171, 3180);
</script>
</body>
</html>
